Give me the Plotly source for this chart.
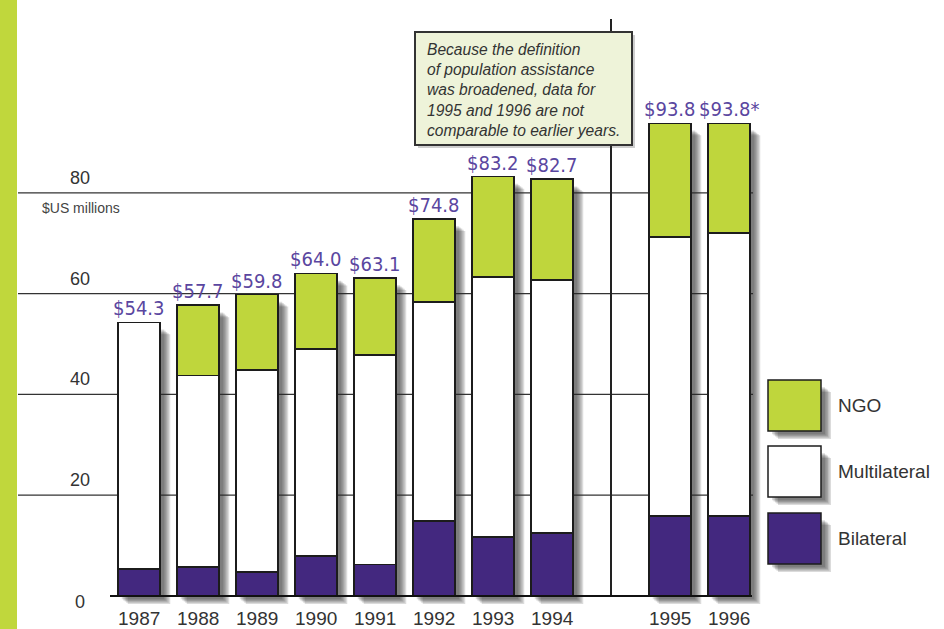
import plotly.graph_objects as go

# Population assistance by channel, $US millions
years = ["1987", "1988", "1989", "1990", "1991", "1992", "1993", "1994", "1995", "1996"]
slots = [0, 1, 2, 3, 4, 5, 6, 7, 9, 10]          # gap before the redefined years
bilateral = [5.4, 5.8, 4.8, 7.9, 6.3, 14.9, 11.7, 12.5, 15.9, 15.9]
multilateral = [48.9, 38.0, 40.0, 41.1, 41.5, 43.4, 51.6, 50.2, 55.3, 56.1]
ngo = [0.0, 13.9, 15.0, 15.0, 15.3, 16.5, 19.9, 20.0, 22.6, 21.8]
totals = [54.3, 57.7, 59.8, 64.0, 63.1, 74.8, 83.2, 82.7, 93.8, 93.8]
total_marks = ["", "", "", "", "", "", "", "", "", "*"]
y_ticks = [0, 20, 40, 60, 80]
break_slot = 8
note_lines = ["Because the definition", "of population assistance",
              "was broadened, data for", "1995 and 1996 are not",
              "comparable to earlier years."]

W, H = 944, 629
GREEN = "#bfd63c"
PURPLE = "#43287f"
LABEL_PURPLE = "#5a46a0"
EDGE = "#1c1c1c"
TEXT = "#333333"

# axis geometry (pixels per unit)
PX_SLOT = 59.0
X0_PX = 139.0
PX_UNIT = 5.04
BASE_PX = 596.0
BAR_W = 0.72

x_range = [-X0_PX / PX_SLOT, (W - X0_PX) / PX_SLOT]
y_range = [-(H - BASE_PX) / PX_UNIT, BASE_PX / PX_UNIT]


def px_x(px):
    return (px - X0_PX) / PX_SLOT


def px_y(py):
    return (BASE_PX - py) / PX_UNIT


def dx(px):
    return px / PX_SLOT


def dy(px):
    return px / PX_UNIT


fig = go.Figure()
line = dict(color=EDGE, width=1.5)
fig.add_trace(go.Bar(x=slots, y=bilateral, width=BAR_W, name="Bilateral",
                     marker=dict(color=PURPLE, line=line)))
fig.add_trace(go.Bar(x=slots, y=multilateral, width=BAR_W, name="Multilateral",
                     marker=dict(color="white", line=line)))
fig.add_trace(go.Bar(x=slots, y=ngo, width=BAR_W, name="NGO",
                     marker=dict(color=GREEN, line=line)))

shapes = []
annotations = []

# green page stripe
shapes.append(dict(type="rect", xref="paper", yref="paper", x0=0, x1=17 / W, y0=0, y1=1,
                   fillcolor="#c0d73c", line=dict(width=0), layer="below"))

# gridlines
for v in y_ticks[1:]:
    shapes.append(dict(type="line", x0=px_x(18), x1=px_x(753), y0=v, y1=v,
                       line=dict(color="#333333", width=1.2), layer="below"))

SHADOW_STEPS = [10, 8.5, 7, 5.5, 4]
SHADOW_FILL = "rgba(40,40,40,0.17)"


def soft_shadow(x0, x1, y0, y1):
    # layered translucent rectangles give a blurred drop shadow
    out = []
    for off in SHADOW_STEPS:
        out.append(dict(type="rect", x0=x0 + dx(off), x1=x1 + dx(off),
                        y0=y0 - dy(off * 0.8), y1=y1 - dy(off * 0.8) - dy(4),
                        fillcolor=SHADOW_FILL, line=dict(width=0), layer="below"))
    return out


for s, t in zip(slots, totals):
    shapes += soft_shadow(s - BAR_W / 2, s + BAR_W / 2, 0, t)

# break line between comparable and redefined years
shapes.append(dict(type="line", x0=break_slot, x1=break_slot, y0=0, y1=px_y(19),
                   line=dict(color="#222222", width=2)))

# baseline
shapes.append(dict(type="line", x0=px_x(110), x1=px_x(752), y0=0, y1=0,
                   line=dict(color="#111111", width=2)))

# value labels over bars
for s, t, m in zip(slots, totals, total_marks):
    annotations.append(dict(x=s, y=t, text=f"${t:.1f}{m}", showarrow=False,
                            yanchor="bottom", yshift=0,
                            font=dict(family="DejaVu Sans Condensed, Liberation Sans", size=20,
                                      color=LABEL_PURPLE)))

# category labels
for s, yr in zip(slots, years):
    annotations.append(dict(x=s, y=0, text=yr, showarrow=False, yanchor="middle",
                            yshift=-22, font=dict(family="Liberation Sans", size=19, color=TEXT)))

# value axis labels
for v in y_ticks:
    annotations.append(dict(x=px_x(80), y=v, text=str(v), showarrow=False,
                            yanchor="middle", xanchor="center",
                            yshift=15 if v else -6,
                            font=dict(family="Liberation Sans", size=18, color=TEXT)))
annotations.append(dict(x=px_x(40), y=px_y(208), text="$US millions", showarrow=False,
                        xanchor="left", yanchor="middle",
                        font=dict(family="Liberation Sans", size=14, color="#444444")))

# note box
bx0, bx1, by0, by1 = 415, 632, 32, 145
shapes.append(dict(type="rect", x0=px_x(bx0 + 3), x1=px_x(bx1 + 3), y0=px_y(by1 + 3), y1=px_y(by0 + 3),
                   fillcolor="rgba(60,60,60,0.25)", line=dict(width=0)))
shapes.append(dict(type="rect", x0=px_x(bx0), x1=px_x(bx1), y0=px_y(by1), y1=px_y(by0),
                   fillcolor="#eef3d9", line=dict(color="#333333", width=2)))
for i, ln in enumerate(note_lines):
    annotations.append(dict(x=px_x(425), y=px_y(49 + i * 20.4), text=f"<i>{ln}</i>",
                            showarrow=False, xanchor="left", yanchor="middle",
                            font=dict(family="Liberation Sans", size=15.6, color=TEXT)))

# legend swatches
legend_items = [("NGO", GREEN, 380), ("Multilateral", "white", 446), ("Bilateral", PURPLE, 513)]
for name, col, top in legend_items:
    lx0, lx1, ly0, ly1 = 768, 821, top, top + 51
    for off in SHADOW_STEPS:
        shapes.append(dict(type="rect", x0=px_x(lx0 + off), x1=px_x(lx1 + off),
                           y0=px_y(ly1 + off * 0.8), y1=px_y(ly0 + off * 0.8 + 4),
                           fillcolor=SHADOW_FILL, line=dict(width=0)))
    shapes.append(dict(type="rect", x0=px_x(lx0), x1=px_x(lx1), y0=px_y(ly1), y1=px_y(ly0),
                       fillcolor=col, line=dict(color=EDGE, width=1.5)))
    annotations.append(dict(x=px_x(836), y=px_y(top + 25), text=name, showarrow=False,
                            xanchor="left", yanchor="middle",
                            font=dict(family="Liberation Sans", size=19, color=TEXT)))

fig.update_layout(
    width=W, height=H, barmode="stack", showlegend=False,
    margin=dict(l=0, r=0, t=0, b=0),
    paper_bgcolor="white", plot_bgcolor="white",
    xaxis=dict(range=x_range, visible=False, fixedrange=True),
    yaxis=dict(range=y_range, visible=False, fixedrange=True),
    shapes=shapes, annotations=annotations, hovermode=False,
)

fig.write_html("out.html")
